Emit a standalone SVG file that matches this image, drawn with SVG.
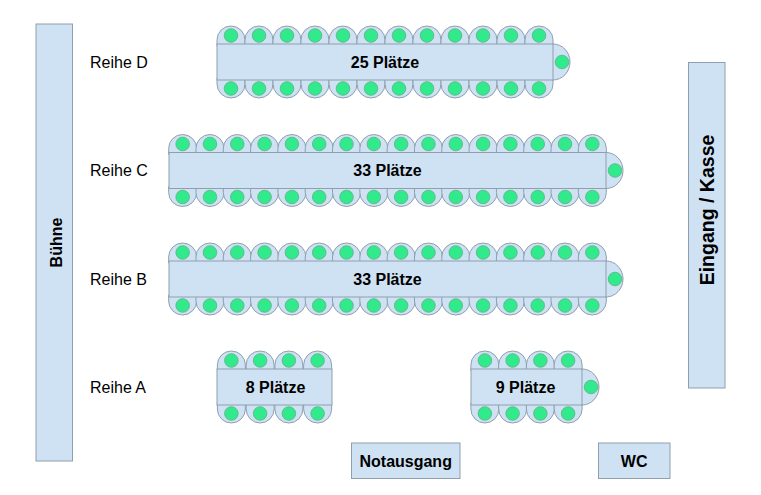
<svg xmlns="http://www.w3.org/2000/svg" xmlns:xlink="http://www.w3.org/1999/xlink" width="761" height="495" viewBox="0 0 761 495">
<style>
.box{fill:#cfe2f3;stroke:#8f9fae;stroke-width:1}
.chair{fill:#cfe2f3;stroke:#8f9fae;stroke-width:1}
.seat{fill:#31ea8b;stroke:#5fae86;stroke-width:0.8}
.lbl{font-family:"Liberation Sans",Arial,sans-serif;font-size:16px;fill:#000}
.b{font-weight:bold;text-anchor:middle}
</style>
<defs>
<g id="ct"><path class="chair" d="M-14 2 V-4 A14 14 0 0 1 14 -4 V2 Z"/><circle class="seat" cx="0" cy="-8.5" r="6.8"/></g>
<g id="cb"><path class="chair" d="M-14 -2 V4 A14 14 0 0 0 14 4 V-2 Z"/><circle class="seat" cx="0" cy="8.5" r="6.8"/></g>
<g id="cs"><path class="chair" d="M-1 -18 H0 A17 18 0 0 1 0 18 H-1 Z"/><circle class="seat" cx="9" cy="0" r="6.8"/></g>
</defs>
<rect width="761" height="495" fill="#fff"/>
<g id="connectors"/>
<g id="buehne"><rect class="box" x="36" y="24" width="36.5" height="437"/><text class="lbl b" transform="translate(62,242.5) rotate(-90)">Bühne</text></g>
<g id="eingang"><rect class="box" x="688.5" y="62.5" width="36.5" height="325.5"/><text class="lbl b" style="font-size:19.5px" transform="translate(713.5,210) rotate(-90)">Eingang / Kasse</text></g>
<g id="notausgang"><rect class="box" x="351.5" y="443" width="108.5" height="35.5"/><text class="lbl b" x="405.7" y="466.8">Notausgang</text></g>
<g id="wc"><rect class="box" x="598.5" y="443" width="71.5" height="35.5"/><text class="lbl b" x="634.2" y="466.8">WC</text></g>

<g id="reihe-d">
<text class="lbl" x="90" y="67.8">Reihe D</text>
<g transform="translate(0,44)"><use href="#ct" x="231"/><use href="#ct" x="259"/><use href="#ct" x="287"/><use href="#ct" x="315"/><use href="#ct" x="343"/><use href="#ct" x="371"/><use href="#ct" x="399"/><use href="#ct" x="427"/><use href="#ct" x="455"/><use href="#ct" x="483"/><use href="#ct" x="511"/><use href="#ct" x="539"/></g>
<g transform="translate(0,80)"><use href="#cb" x="231"/><use href="#cb" x="259"/><use href="#cb" x="287"/><use href="#cb" x="315"/><use href="#cb" x="343"/><use href="#cb" x="371"/><use href="#cb" x="399"/><use href="#cb" x="427"/><use href="#cb" x="455"/><use href="#cb" x="483"/><use href="#cb" x="511"/><use href="#cb" x="539"/></g>
<use href="#cs" x="553" y="62"/>
<rect class="box" x="217" y="44" width="336" height="36"/>
<text class="lbl b" x="385" y="67.8">25 Plätze</text>
</g>

<g id="reihe-c">
<text class="lbl" x="90" y="176.3">Reihe C</text>
<g transform="translate(0,152.5)"><use href="#ct" x="182.66"/><use href="#ct" x="209.97"/><use href="#ct" x="237.28"/><use href="#ct" x="264.59"/><use href="#ct" x="291.91"/><use href="#ct" x="319.22"/><use href="#ct" x="346.53"/><use href="#ct" x="373.84"/><use href="#ct" x="401.16"/><use href="#ct" x="428.47"/><use href="#ct" x="455.78"/><use href="#ct" x="483.09"/><use href="#ct" x="510.41"/><use href="#ct" x="537.72"/><use href="#ct" x="565.03"/><use href="#ct" x="592.34"/></g>
<g transform="translate(0,188.5)"><use href="#cb" x="182.66"/><use href="#cb" x="209.97"/><use href="#cb" x="237.28"/><use href="#cb" x="264.59"/><use href="#cb" x="291.91"/><use href="#cb" x="319.22"/><use href="#cb" x="346.53"/><use href="#cb" x="373.84"/><use href="#cb" x="401.16"/><use href="#cb" x="428.47"/><use href="#cb" x="455.78"/><use href="#cb" x="483.09"/><use href="#cb" x="510.41"/><use href="#cb" x="537.72"/><use href="#cb" x="565.03"/><use href="#cb" x="592.34"/></g>
<use href="#cs" x="606" y="170.5"/>
<rect class="box" x="169" y="152.5" width="437" height="36"/>
<text class="lbl b" x="387.5" y="176.3">33 Plätze</text>
</g>

<g id="reihe-b">
<text class="lbl" x="90" y="284.8">Reihe B</text>
<g transform="translate(0,261)"><use href="#ct" x="182.66"/><use href="#ct" x="209.97"/><use href="#ct" x="237.28"/><use href="#ct" x="264.59"/><use href="#ct" x="291.91"/><use href="#ct" x="319.22"/><use href="#ct" x="346.53"/><use href="#ct" x="373.84"/><use href="#ct" x="401.16"/><use href="#ct" x="428.47"/><use href="#ct" x="455.78"/><use href="#ct" x="483.09"/><use href="#ct" x="510.41"/><use href="#ct" x="537.72"/><use href="#ct" x="565.03"/><use href="#ct" x="592.34"/></g>
<g transform="translate(0,297)"><use href="#cb" x="182.66"/><use href="#cb" x="209.97"/><use href="#cb" x="237.28"/><use href="#cb" x="264.59"/><use href="#cb" x="291.91"/><use href="#cb" x="319.22"/><use href="#cb" x="346.53"/><use href="#cb" x="373.84"/><use href="#cb" x="401.16"/><use href="#cb" x="428.47"/><use href="#cb" x="455.78"/><use href="#cb" x="483.09"/><use href="#cb" x="510.41"/><use href="#cb" x="537.72"/><use href="#cb" x="565.03"/><use href="#cb" x="592.34"/></g>
<use href="#cs" x="606" y="279"/>
<rect class="box" x="169" y="261" width="437" height="36"/>
<text class="lbl b" x="387.5" y="284.8">33 Plätze</text>
</g>

<g id="reihe-a">
<text class="lbl" x="90" y="392.8">Reihe A</text>
<g id="tisch-8">
<g transform="translate(0,369)"><use href="#ct" x="231.375"/><use href="#ct" x="260.125"/><use href="#ct" x="288.875"/><use href="#ct" x="317.625"/></g>
<g transform="translate(0,405)"><use href="#cb" x="231.375"/><use href="#cb" x="260.125"/><use href="#cb" x="288.875"/><use href="#cb" x="317.625"/></g>
<rect class="box" x="217" y="369" width="115" height="36"/>
<text class="lbl b" x="275.5" y="392.8">8 Plätze</text>
</g>
<g id="tisch-9">
<g transform="translate(0,369)"><use href="#ct" x="484.875"/><use href="#ct" x="512.625"/><use href="#ct" x="540.375"/><use href="#ct" x="568.125"/></g>
<g transform="translate(0,405)"><use href="#cb" x="484.875"/><use href="#cb" x="512.625"/><use href="#cb" x="540.375"/><use href="#cb" x="568.125"/></g>
<use href="#cs" x="582" y="387"/>
<rect class="box" x="471" y="369" width="111" height="36"/>
<text class="lbl b" x="525.5" y="392.8">9 Plätze</text>
</g>
</g>
</svg>
